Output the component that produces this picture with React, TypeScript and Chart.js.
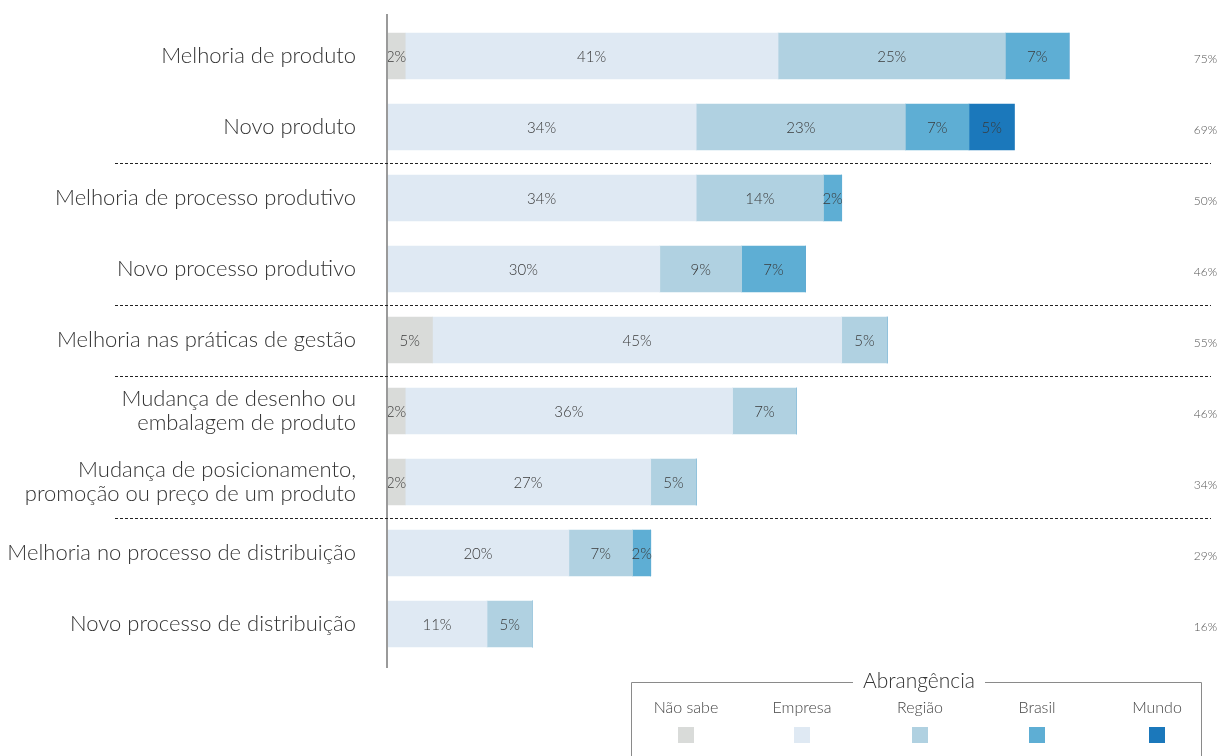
import React, { useEffect, useRef } from "react";
import { Chart, registerables } from "chart.js";

Chart.register(...registerables);

const categories: (string | string[])[] = [
  "Melhoria de produto",
  "Novo produto",
  "Melhoria de processo produtivo",
  "Novo processo produtivo",
  "Melhoria nas práticas de gestão",
  ["Mudança de desenho ou", "embalagem de produto"],
  ["Mudança de posicionamento,", "promoção ou preço de um produto"],
  "Melhoria no processo de distribuição",
  "Novo processo de distribuição",
];

const naoSabe = [2, 0, 0, 0, 5, 2, 2, 0, 0];
const empresa = [41, 34, 34, 30, 45, 36, 27, 20, 11];
const regiao = [25, 23, 14, 9, 5, 7, 5, 7, 5];
const brasil = [7, 7, 2, 7, 0, 0, 0, 2, 0];
const mundo = [0, 5, 0, 0, 0, 0, 0, 0, 0];
const totals = [75, 69, 50, 46, 55, 46, 34, 29, 16];

const seriesNames = ["Não sabe", "Empresa", "Região", "Brasil", "Mundo"];
const seriesColors = ["#d9dbd9", "#dfe9f3", "#b0d1e1", "#5eaed4", "#1b78bb"];
const separatorsAfter = [1, 3, 4, 6];

const FONT = "Lato, 'Open Sans', sans-serif";

const overlayPlugin = {
  id: "overlay",
  afterDatasetsDraw(chart: any) {
    const ctx = chart.ctx;
    const yScale = chart.scales.y;
    const area = chart.chartArea;
    ctx.save();
    // value labels
    ctx.font = `300 15px ${FONT}`;
    ctx.fillStyle = "#3a3a3a";
    ctx.textAlign = "center";
    ctx.textBaseline = "middle";
    chart.data.datasets.forEach((ds: any, di: number) => {
      const meta = chart.getDatasetMeta(di);
      meta.data.forEach((el: any, i: number) => {
        const v = ds.data[i];
        if (!v) return;
        const left = Math.min(el.x, el.base);
        const right = Math.max(el.x, el.base);
        ctx.fillText(`${v}%`, (left + right) / 2, el.y + 1);
      });
    });
    // totals
    ctx.font = `300 12px ${FONT}`;
    ctx.fillStyle = "#555";
    ctx.textAlign = "right";
    totals.forEach((t, i) => {
      const y = yScale.getPixelForValue(i);
      ctx.fillText(`${t}%`, 1217, y + 3);
    });
    // axis line
    ctx.strokeStyle = "#9a9a9a";
    ctx.lineWidth = 2;
    ctx.beginPath();
    ctx.moveTo(area.left, 14);
    ctx.lineTo(area.left, 668);
    ctx.stroke();
    // separators
    ctx.strokeStyle = "#222";
    ctx.lineWidth = 1;
    ctx.setLineDash([3, 2]);
    separatorsAfter.forEach((i) => {
      const y = Math.round((yScale.getPixelForValue(i) + yScale.getPixelForValue(i + 1)) / 2) + 0.5;
      ctx.beginPath();
      ctx.moveTo(115, y);
      ctx.lineTo(1211, y);
      ctx.stroke();
    });
    ctx.setLineDash([]);
    // legend box
    const bx = 631, by = 682, bw = 570;
    ctx.strokeStyle = "#8a8a8a";
    ctx.lineWidth = 1;
    ctx.font = `300 21px ${FONT}`;
    const title = "Abrangência";
    const tw = ctx.measureText(title).width;
    const tcx = 919;
    ctx.beginPath();
    ctx.moveTo(bx + 0.5, 760);
    ctx.lineTo(bx + 0.5, by + 0.5);
    ctx.lineTo(tcx - tw / 2 - 10, by + 0.5);
    ctx.moveTo(tcx + tw / 2 + 10, by + 0.5);
    ctx.lineTo(bx + bw + 0.5, by + 0.5);
    ctx.lineTo(bx + bw + 0.5, 760);
    ctx.stroke();
    ctx.fillStyle = "#333";
    ctx.textAlign = "center";
    ctx.fillText(title, tcx, 681);
    const itemX = [686, 802, 920, 1037, 1157];
    ctx.font = `300 16px ${FONT}`;
    seriesNames.forEach((n, i) => {
      ctx.fillStyle = "#444";
      ctx.fillText(n, itemX[i], 708);
      ctx.fillStyle = seriesColors[i];
      ctx.fillRect(itemX[i] - 8, 727, 16, 16);
    });
    ctx.restore();
  },
};

export default function App() {
  const ref = useRef<HTMLCanvasElement>(null);
  useEffect(() => {
    if (!ref.current) return;
    const seriesData = [naoSabe, empresa, regiao, brasil, mundo];
    const chart = new Chart(ref.current, {
      type: "bar",
      data: {
        labels: categories,
        datasets: seriesNames.map((name, i) => ({
          label: name,
          data: seriesData[i],
          backgroundColor: seriesColors[i],
          borderWidth: 0,
          barThickness: 46,
        })),
      },
      options: {
        indexAxis: "y",
        animation: false,
        responsive: false,
        layout: { padding: { top: 20.5, bottom: 96.5, right: 61, left: 0 } },
        plugins: { legend: { display: false }, tooltip: { enabled: false } },
        scales: {
          x: { stacked: true, min: 0, max: 85, display: false },
          y: {
            stacked: true,
            grid: { display: false, drawTicks: false },
            border: { display: false },
            afterFit: (scale: any) => {
              scale.width = 387;
              scale.paddingTop = 0;
              scale.paddingBottom = 0;
            },
            ticks: {
              padding: 31,
              color: "#333",
              font: { family: FONT, size: 22, weight: "300" as any, lineHeight: 1.08 },
            },
          },
        },
      },
      plugins: [overlayPlugin],
    });
    return () => chart.destroy();
  }, []);
  return (
    <div style={{ position: "fixed", left: 0, top: 0, width: 1221, height: 756, background: "#fff" }}>
      <canvas ref={ref} width={1221} height={756} style={{ width: 1221, height: 756 }} />
    </div>
  );
}
